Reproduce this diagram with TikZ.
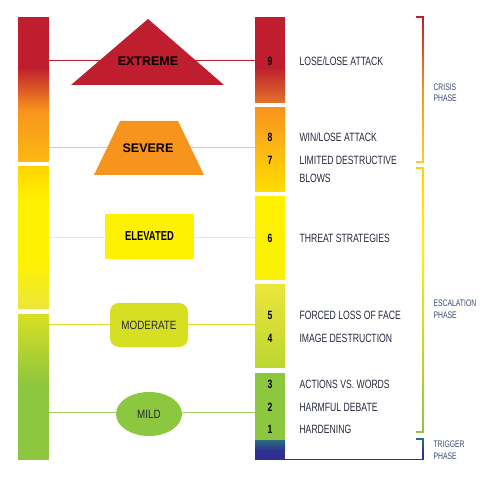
\documentclass[tikz,border=0pt]{standalone}
\usepackage{fontspec}
\setmainfont{Liberation Sans}
\newfontfamily\cond[FakeStretch=0.72]{Liberation Sans}
\newfontfamily\condw[FakeStretch=0.82]{Liberation Sans}
\usepackage{tikz}
\usetikzlibrary{positioning,shapes.geometric}
\definecolor{cred}{HTML}{BE1E2D}
\definecolor{crust}{HTML}{E4732A}
\definecolor{corange}{HTML}{F7941D}
\definecolor{camber}{HTML}{FDB913}
\definecolor{cgold}{HTML}{FFD400}
\definecolor{cyellow}{HTML}{FFF200}
\definecolor{cpale}{HTML}{EBE63A}
\definecolor{clime}{HTML}{D7DF23}
\definecolor{cleaf}{HTML}{BDD631}
\definecolor{cgreen}{HTML}{8DC63F}
\definecolor{cblue}{HTML}{2E3192}
\definecolor{cteal}{HTML}{2A6A7E}
\definecolor{ctext}{HTML}{262A3C}
\definecolor{cphase}{HTML}{3A4A70}
\begin{document}
\begin{tikzpicture}[x=1pt,y=-1pt,line width=1pt,
  num/.style={font=\cond\bfseries\fontsize{12}{14}\selectfont,text=black,inner sep=0pt,text height=8.6pt,text depth=0pt},
  lbl/.style={anchor=west,font=\cond\fontsize{12}{14}\selectfont,text=ctext,inner sep=0pt,text height=8.6pt,text depth=0pt},
  ph/.style={anchor=west,align=left,font=\cond\fontsize{9.5}{11.5}\selectfont,text=cphase,inner sep=0pt},
  lev/.style={inner sep=0pt,text height=8.8pt,text depth=0pt},
  lvl/.style={font=\condw\fontsize{12}{14}\selectfont,text=ctext,text height=8.6pt,text depth=0pt,inner sep=0pt}]
\useasboundingbox (0,0) rectangle (491,478);

% scale on the left
\fill[cred] (18,17) rectangle (49,67.5);
\shade[top color=cred,bottom color=corange] (18,67) rectangle (49,110.5);
\shade[top color=corange,bottom color=camber] (18,110) rectangle (49,162);
\shade[top color=cgold,bottom color=cyellow] (18,167) rectangle (49,200.5);
\fill[cyellow] (18,200) rectangle (49,260.5);
\shade[top color=cyellow,bottom color=cpale] (18,260) rectangle (49,309);
\shade[top color=clime,bottom color=cgreen] (18,315) rectangle (49,385.5);
\fill[cgreen] (18,385) rectangle (49,460);

% scale on the right
\fill[cred] (255,17) rectangle (285,67.5);
\shade[top color=cred,bottom color=crust] (255,67) rectangle (285,103);
\shade[top color=corange,bottom color=camber] (255,108) rectangle (285,150.5);
\shade[top color=camber,bottom color=cgold!70!cyellow] (255,150) rectangle (285,192);
\shade[top color=cyellow,bottom color=cyellow!90!clime] (255,197) rectangle (285,280);
\shade[top color=cpale,bottom color=cleaf] (255,285) rectangle (285,368);
\fill[cgreen] (255,373) rectangle (285,441);
\shade[top color=cteal,bottom color=cblue] (255,440.5) rectangle (285,450.5);
\fill[cblue] (255,450) rectangle (285,460);

% connectors between the scales
\coordinate (l9) at (49,61);  \coordinate (r9) at (255,61);
\coordinate (l8) at (49,148); \coordinate (r8) at (255,148);
\coordinate (l6) at (49,238); \coordinate (r6) at (255,238);
\coordinate (l4) at (49,325); \coordinate (r4) at (255,325);
\coordinate (l2) at (49,413); \coordinate (r2) at (255,413);
\draw[cred] (l9)--(r9);
\draw[corange!55] (l8)--(r8);
\draw[cyellow!70!white] (l6)--(r6);
\draw[clime] (l4)--(r4);
\draw[cgreen!80!white] (l2)--(r2);

% levels
\fill[cred] (148,19)--(224,85)--(71,85)--cycle;
\node[lev,font=\bfseries\fontsize{12.5}{14}\selectfont] (extreme) at (148,61) {EXTREME};
\fill[corange] (120,121)--(178,121)--(204,175)--(94,175)--cycle;
\node[lev,font=\bfseries\fontsize{12.5}{14}\selectfont] (severe) at (148,148) {SEVERE};
\node[lev,fill=cyellow,minimum width=89pt,minimum height=45pt,font=\cond\bfseries\fontsize{13}{14}\selectfont] (elevated) at (149.5,236.5) {ELEVATED};
\node[lvl,fill=clime,rounded corners=9pt,minimum width=78pt,minimum height=44pt] (moderate) at (149,325) {MODERATE};
\node[lvl,ellipse,fill=cgreen,minimum width=66pt,minimum height=44pt] (mild) at (149,414) {MILD};

% steps
\node[num] (n9) at (270,61) {9};   \node[lbl] (t9) at (299,61) {LOSE/LOSE ATTACK};
\node[num] (n8) at (270,137) {8};  \node[lbl] (t8) at (299,137) {WIN/LOSE ATTACK};
\node[num] (n7) at (270,160) {7};  \node[lbl] (t7) at (299,160) {LIMITED DESTRUCTIVE};
\node[lbl,below right=8.4pt and 0pt of t7.south west] (t7b) {BLOWS};
\node[num] (n6) at (270,238) {6};  \node[lbl] (t6) at (299,238) {THREAT STRATEGIES};
\node[num] (n5) at (270,315) {5};  \node[lbl] (t5) at (299,315) {FORCED LOSS OF FACE};
\node[num] (n4) at (270,338) {4};  \node[lbl] (t4) at (299,338) {IMAGE DESTRUCTION};
\node[num] (n3) at (270,384) {3};  \node[lbl] (t3) at (299,384) {ACTIONS VS. WORDS};
\node[num] (n2) at (270,407) {2};  \node[lbl] (t2) at (299,407) {HARMFUL DEBATE};
\node[num] (n1) at (270,429) {1};  \node[lbl] (t1) at (299,429) {HARDENING};

% phases
\fill[cred] (416,16.3) rectangle (424,17.7);
\shade[top color=cred,bottom color=corange] (422.3,17) rectangle (423.7,90);
\shade[top color=corange,bottom color=camber!80!white] (422.3,89.5) rectangle (423.7,162);
\fill[camber!80!white] (416,161.3) rectangle (424,162.7);
\node[ph] (crisis) at (433,92.5) {CRISIS\\PHASE};

\fill[cgold] (416,167.3) rectangle (424,168.7);
\shade[top color=cgold,bottom color=cyellow] (422.3,168) rectangle (423.7,250);
\shade[top color=cyellow,bottom color=cgreen] (422.3,249.5) rectangle (423.7,432);
\fill[cgreen] (416,431.3) rectangle (424,432.7);
\node[ph] (escal) at (433,309) {ESCALATION\\PHASE};

\fill[cteal] (416,438.3) rectangle (424,439.7);
\shade[top color=cteal,bottom color=cblue] (422.3,439) rectangle (423.7,452);
\fill[cblue] (422.3,451.5) rectangle (423.7,460.2);
\fill[cblue] (285,458.8) rectangle (423.7,460.2);
\node[ph] (trigger) at (433,450) {TRIGGER\\PHASE};
\end{tikzpicture}
\end{document}
